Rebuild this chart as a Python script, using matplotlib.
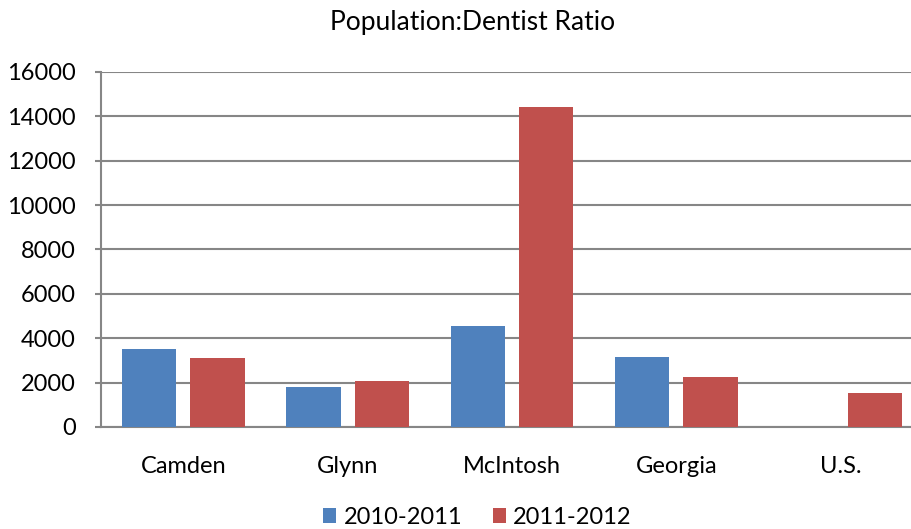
import numpy as np
import matplotlib
matplotlib.use("Agg")
import matplotlib.pyplot as plt

plt.rcParams['font.family'] = ['Lato', 'DejaVu Sans']

counties = ["Camden", "Glynn", "McIntosh", "Georgia", "U.S."]
ratio_2010_2011 = [3490, 1780, 4540, 3140, 0]
ratio_2011_2012 = [3090, 2050, 14400, 2240, 1510]
series_labels = ["2010-2011", "2011-2012"]

fig = plt.figure(figsize=(9.11, 5.29), dpi=100)
# plot area runs a little past the right edge, as in the original
ax = fig.add_axes([0.111, 0.193, 0.902, 0.671])

x = np.arange(len(counties))
w = 0.331
off = w / 2 + 0.0425
ax.bar(x - off, ratio_2010_2011, w, color="#4F81BD", label=series_labels[0], zorder=3)
ax.bar(x + off, ratio_2011_2012, w, color="#C0504D", label=series_labels[1], zorder=3)

ax.set_xlim(-0.5, len(counties) - 0.5)
ax.set_ylim(0, 16000)
ax.set_yticks(np.arange(0, 16001, 2000))
ax.set_xticks(x)
ax.set_xticklabels(counties)
ax.grid(axis="y", color="#868686", linewidth=1.5, zorder=0)

for s in ["top", "right"]:
    ax.spines[s].set_visible(False)
for s in ["left", "bottom"]:
    ax.spines[s].set_color("#868686")
    ax.spines[s].set_linewidth(1.5)
ax.tick_params(axis="y", length=4, color="#868686", width=1.5, labelsize=17, pad=14)
ax.tick_params(axis="x", length=0, labelsize=17, pad=21)

fig.text(0.519, 0.958, "Population:Dentist Ratio", fontsize=19, ha="center", va="center")
fig.legend(loc="center", ncol=2, frameon=False, fontsize=17,
           bbox_to_anchor=(0.524, 0.022), handlelength=0.55, handleheight=0.55,
           handletextpad=0.3, columnspacing=1.3)

fig.savefig("out.png", dpi=100)
